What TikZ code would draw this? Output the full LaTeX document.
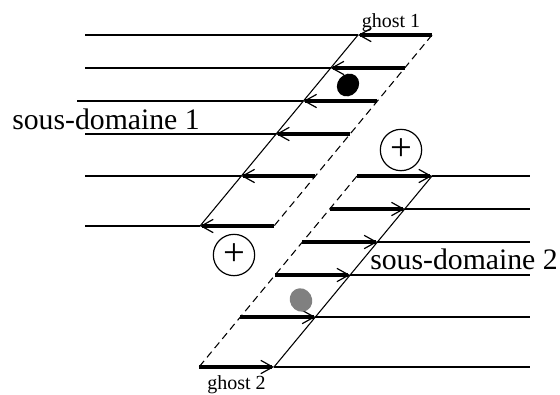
\documentclass[tikz,border=0pt]{standalone}
\usepackage{fontspec}
\setmainfont{Liberation Serif}
\usetikzlibrary{arrows.meta}

\begin{document}
\begin{tikzpicture}[x=0.75pt,y=0.75pt,yscale=-1,xscale=1,
  gridline/.style={line width=0.8pt},
  ghostline/.style={line width=0.8pt,dash pattern=on 5.5pt off 3.5pt},
  ghostarrow/.style={line width=2.6pt,-{Straight Barb[line width=0.9pt,length=9pt,width=10pt]}},
  plusnode/.style={draw,line width=0.9pt,circle,minimum size=31pt,inner sep=0pt,font=\fontsize{29}{29}\selectfont},
  domainlabel/.style={inner sep=0pt,font=\fontsize{22.3}{26}\selectfont},
  ghostlabel/.style={inner sep=0pt,font=\fontsize{15}{18}\selectfont}]
\useasboundingbox (0,0) rectangle (560,394);

% sous-domaine 1
\foreach \i/\y/\xs/\xl in {1/35/358/85, 2/68/330.7/85, 3/101/303.4/77, 4/134/276.1/85, 5/176/241.4/85, 6/226/200/85}{
  \coordinate (a\i) at (\xl,\y);
  \coordinate (s\i) at (\xs,\y);
  \coordinate (g\i) at (\xs+74,\y);
  \draw[gridline] (a\i) -- (s\i);
  \draw[ghostarrow] (g\i) -- (s\i);
}
\draw[gridline] (s1) -- (s6);
\draw[ghostline] (g1) -- (g6);

% sous-domaine 2
\foreach \i/\y/\xs in {1/176/432, 2/209/404.7, 3/242/377.4, 4/275/350.1, 5/317/315.4, 6/367/274}{
  \coordinate (t\i) at (\xs,\y);
  \coordinate (h\i) at (\xs-75,\y);
  \coordinate (b\i) at (530,\y);
  \draw[gridline] (t\i) -- (b\i);
  \draw[ghostarrow] (h\i) -- (t\i);
}
\draw[gridline] (t1) -- (t6);
\draw[ghostline] (h1) -- (h6);

% points
\fill[black] (348,85) ellipse [x radius=12, y radius=10.5, rotate=-50];
\fill[black!50] (301,300) ellipse [x radius=11, y radius=12, rotate=-30];

% signes plus
\node[plusnode] (plus1) at (401,150) {+};
\node[plusnode] (plus2) at (234,255) {+};

% textes
\node[domainlabel,anchor=base west] (dom1) at (12,129) {sous-domaine 1};
\node[domainlabel,anchor=base west] (dom2) at (370,269) {sous-domaine 2};
\node[ghostlabel,anchor=base] (gh1) at (391,27) {ghost 1};
\node[ghostlabel,anchor=base] (gh2) at (236.5,389) {ghost 2};

\end{tikzpicture}
\end{document}
